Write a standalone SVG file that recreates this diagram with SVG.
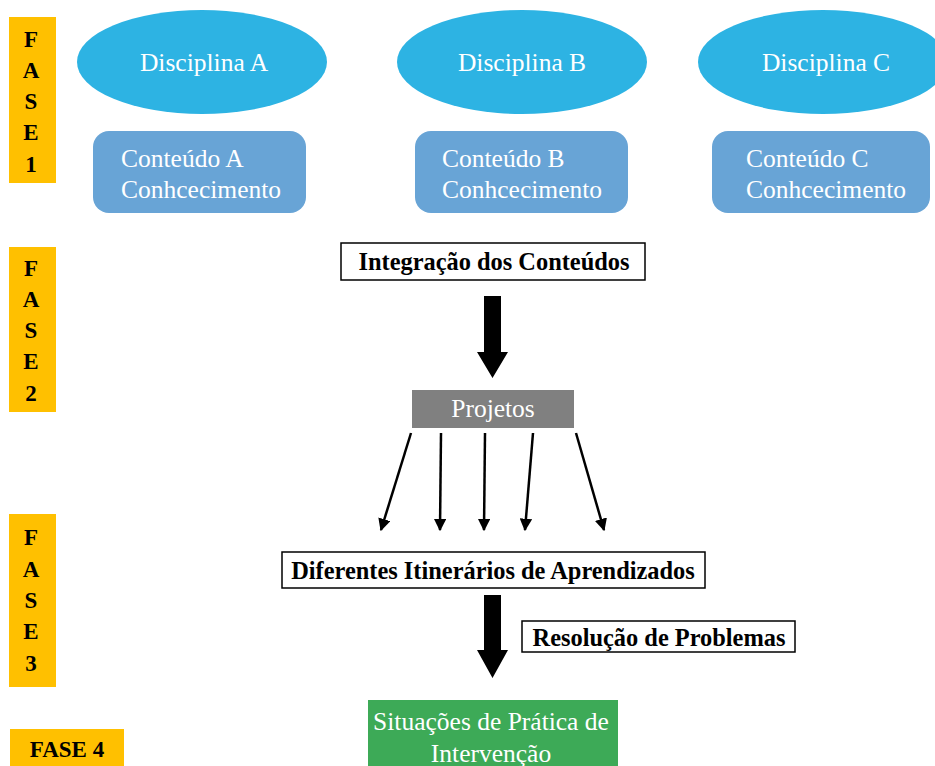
<svg xmlns="http://www.w3.org/2000/svg" width="935" height="766" viewBox="0 0 935 766">
<style>
.fase{fill:#ffc000}
.fl{font-family:"Liberation Serif",serif;font-weight:bold;font-size:23px;fill:#000;text-anchor:middle}
.ell{fill:#2db3e3}
.ct{fill:#68a4d6}
.wt{font-family:"Liberation Serif",serif;font-size:25.5px;fill:#fff}
.bx{fill:#fff;stroke:#000;stroke-width:1.5}
.bt{font-family:"Liberation Serif",serif;font-weight:bold;font-size:24.4px;fill:#000;text-anchor:middle}
.thin{stroke:#000;stroke-width:2.5;fill:none;marker-end:url(#ah)}
</style>
<defs>
<marker id="ah" viewBox="0 0 10 10" refX="9" refY="5" markerWidth="5" markerHeight="5" orient="auto" markerUnits="strokeWidth">
<path d="M0,0 L10,5 L0,10 Z" fill="#000"/>
</marker>
</defs>
<rect width="935" height="766" fill="#fff"/>

<g id="fase1">
<rect class="fase" x="9" y="17" width="47" height="166"/>
<text class="fl" x="31" y="47">F</text>
<text class="fl" x="31" y="78">A</text>
<text class="fl" x="31" y="109">S</text>
<text class="fl" x="31" y="140">E</text>
<text class="fl" x="31" y="172">1</text>
</g>
<g id="fase2">
<rect class="fase" x="9" y="247" width="47" height="165"/>
<text class="fl" x="31" y="276">F</text>
<text class="fl" x="31" y="307">A</text>
<text class="fl" x="31" y="338">S</text>
<text class="fl" x="31" y="369">E</text>
<text class="fl" x="31" y="401">2</text>
</g>
<g id="fase3">
<rect class="fase" x="9" y="514" width="47" height="173"/>
<text class="fl" x="31" y="545">F</text>
<text class="fl" x="31" y="577">A</text>
<text class="fl" x="31" y="608">S</text>
<text class="fl" x="31" y="639">E</text>
<text class="fl" x="31" y="671">3</text>
</g>
<g id="fase4">
<rect class="fase" x="10" y="729" width="114" height="37"/>
<text class="fl" x="67" y="757">FASE 4</text>
</g>

<g id="disciplinaA">
<ellipse class="ell" cx="202" cy="62" rx="125" ry="52"/>
<text class="wt" x="204" y="71" text-anchor="middle">Disciplina A</text>
</g>
<g id="disciplinaB">
<ellipse class="ell" cx="522" cy="62" rx="125" ry="52"/>
<text class="wt" x="522" y="71" text-anchor="middle">Disciplina B</text>
</g>
<g id="disciplinaC">
<ellipse class="ell" cx="823" cy="62" rx="125" ry="52"/>
<text class="wt" x="826" y="71" text-anchor="middle">Disciplina C</text>
</g>

<g id="conteudoA">
<rect class="ct" x="93" y="131" width="213" height="82" rx="16"/>
<text class="wt" x="121" y="167">Conteúdo A</text>
<text class="wt" x="121" y="198">Conhcecimento</text>
</g>
<g id="conteudoB">
<rect class="ct" x="415" y="131" width="213" height="82" rx="16"/>
<text class="wt" x="442" y="167">Conteúdo B</text>
<text class="wt" x="442" y="198">Conhcecimento</text>
</g>
<g id="conteudoC">
<rect class="ct" x="712" y="131" width="218" height="82" rx="16"/>
<text class="wt" x="746" y="167">Conteúdo C</text>
<text class="wt" x="746" y="198">Conhcecimento</text>
</g>

<g id="integracao">
<rect class="bx" x="341" y="243" width="304" height="37"/>
<text class="bt" x="494" y="270">Integração dos Conteúdos</text>
</g>
<g id="projetos">
<rect x="412" y="390" width="162" height="38" fill="#808080"/>
<text class="wt" x="493" y="417" text-anchor="middle">Projetos</text>
</g>
<g id="diferentes">
<rect class="bx" x="282" y="552" width="423" height="36"/>
<text class="bt" x="493" y="579">Diferentes Itinerários de Aprendizados</text>
</g>
<g id="resolucao">
<rect class="bx" x="522" y="621" width="273" height="31"/>
<text class="bt" x="659" y="646">Resolução de Problemas</text>
</g>
<g id="situacoes">
<rect x="368" y="700" width="250" height="66" fill="#3daa57"/>
<text class="wt" x="491" y="730" text-anchor="middle">Situações de Prática de</text>
<text class="wt" x="491" y="762" text-anchor="middle">Intervenção</text>
</g>

<g id="connectors">
<polygon points="484,296 501,296 501,352 508,352 492.5,378 477,352 484,352" fill="#000"/>
<polygon points="484,595 501,595 501,650 508,650 492.5,678 477,650 484,650" fill="#000"/>
<line class="thin" x1="411" y1="433" x2="381" y2="530"/>
<line class="thin" x1="441" y1="433" x2="440" y2="530"/>
<line class="thin" x1="485" y1="433" x2="484" y2="530"/>
<line class="thin" x1="533" y1="433" x2="525" y2="530"/>
<line class="thin" x1="576" y1="433" x2="604" y2="530"/>
</g>
</svg>
